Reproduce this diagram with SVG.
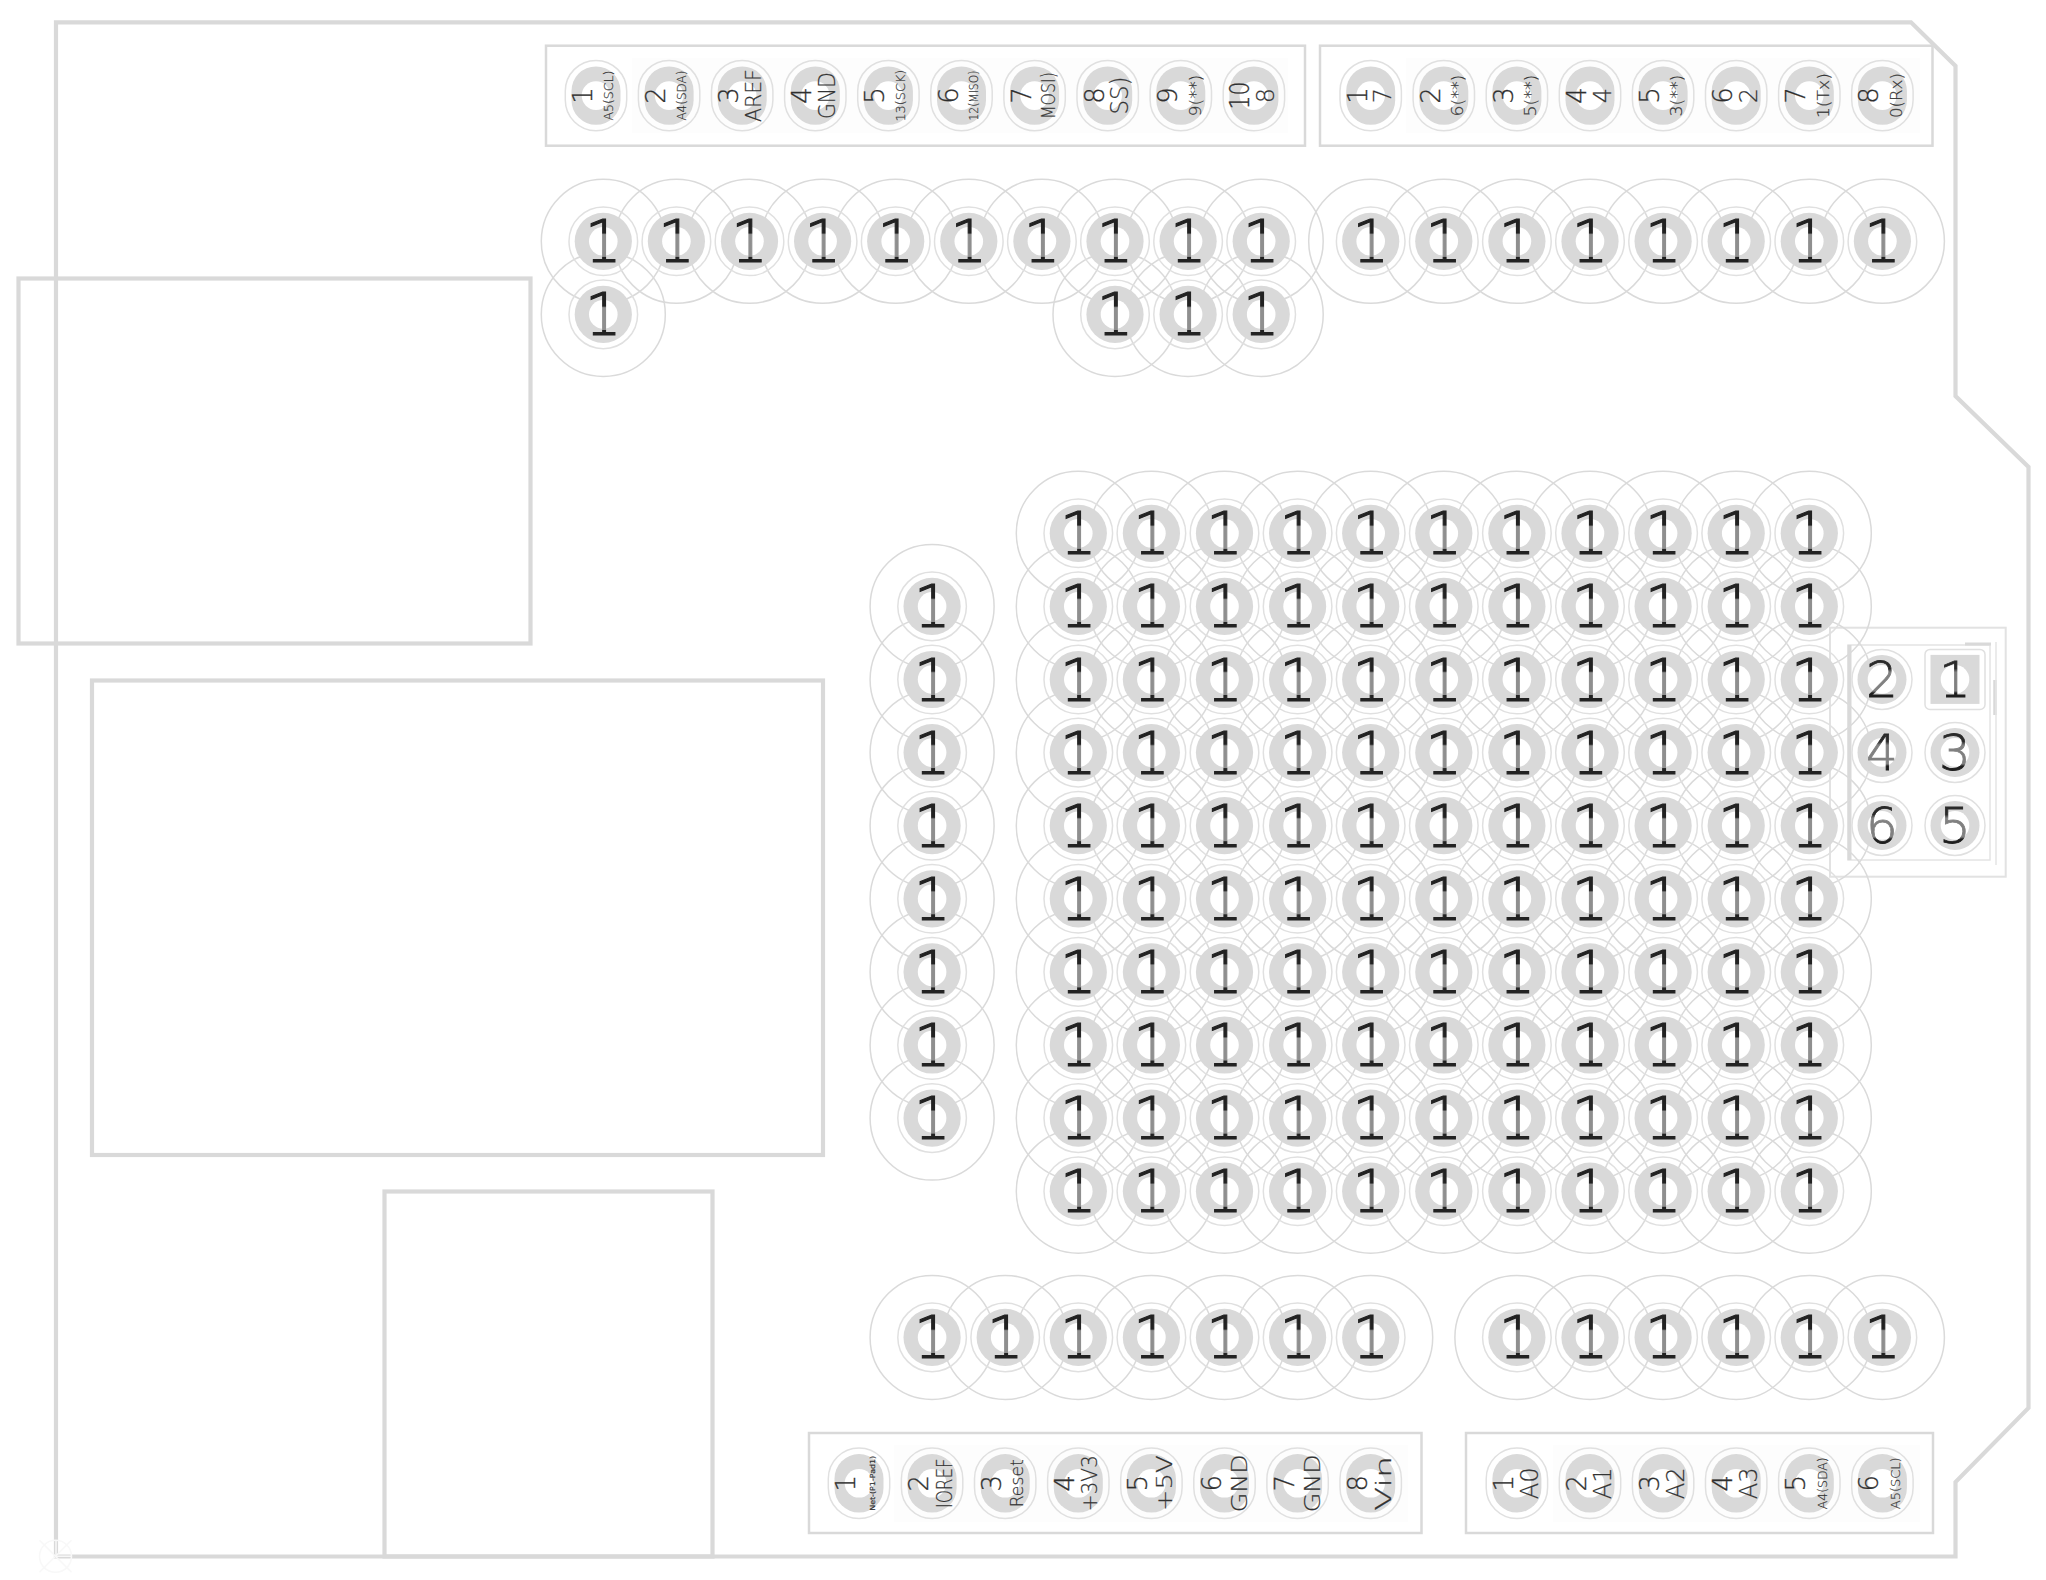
<svg xmlns="http://www.w3.org/2000/svg" width="2046" height="1580" viewBox="0 0 2046 1580">
<style>
.bg{fill:#fff}
.edge{fill:none;stroke:#d9d9d9;stroke-width:4.2;stroke-linejoin:miter}
.box{fill:none;stroke:#d9d9d9;stroke-width:2.5}
.thin{fill:none;stroke:#e4e4e4;stroke-width:1.5}
.thick{fill:none;stroke:#d9d9d9;stroke-width:4}
.faint{fill:none;stroke:#f8f8f8;stroke-width:1.5}
.zone{fill:#fdfdfd}
.clr{fill:none;stroke:#dadada;stroke-width:1.5}
.ring{fill:none;stroke:#e0e0e0;stroke-width:1.5}
.cu{fill:#d9d9d9}
.hole{fill:#fff}
text{font-family:"DejaVu Sans","Liberation Sans",sans-serif;font-weight:200;text-anchor:middle}
.o{font-size:58px;fill:url(#ink);stroke:url(#ink);stroke-width:1.1}
.h{font-size:50px;fill:url(#ink2);stroke:url(#ink2);stroke-width:.8}
.n{font-size:26px;fill:#2e2e2e;stroke:#2e2e2e;stroke-width:.3}
.l{fill:#333;stroke:#333;stroke-width:.2}
</style>
<defs>
<linearGradient id="ink" gradientUnits="userSpaceOnUse" x1="0" y1="-21" x2="0" y2="21"><stop offset="0" stop-color="#222"/><stop offset=".3" stop-color="#222"/><stop offset=".34" stop-color="#8f8f8f"/><stop offset=".86" stop-color="#8f8f8f"/><stop offset=".88" stop-color="#222"/></linearGradient>
<linearGradient id="ink2" gradientUnits="userSpaceOnUse" x1="0" y1="-18" x2="0" y2="18"><stop offset="0" stop-color="#2a2a2a"/><stop offset=".2" stop-color="#2a2a2a"/><stop offset=".3" stop-color="#808080"/><stop offset=".82" stop-color="#808080"/><stop offset=".88" stop-color="#1e1e1e"/></linearGradient>
<g id="r"><circle class="ring" r="34.3"/><circle class="cu" r="28.6"/><circle class="hole" r="14.3"/></g>
<g id="v"><rect class="ring" x="-30.7" y="-35.2" width="61.4" height="70.4" rx="30.7" ry="30.7"/><rect class="cu" x="-24.5" y="-29.2" width="49" height="58.4" rx="24.5" ry="24.5"/><circle class="hole" r="14.3"/></g>
<g id="e"><circle class="ring" r="30"/><circle class="cu" r="24.5"/><circle class="hole" r="14.3"/></g>
<circle id="b" class="clr" r="62"/>
<g id="bc"><use href="#b" y="533.3"/><use href="#b" y="606.4"/><use href="#b" y="679.5"/><use href="#b" y="752.6"/><use href="#b" y="825.7"/><use href="#b" y="898.8"/><use href="#b" y="971.9"/><use href="#b" y="1045"/><use href="#b" y="1118.1"/><use href="#b" y="1191.2"/></g>
</defs>
<rect class="bg" width="2046" height="1580"/>
<g id="board">
<path id="outline" class="edge" d="M56 22.3H1911L1955.5 66V396L2028.5 467V1408L1955.5 1482V1556.5H56Z"/>
<rect id="module-a" class="edge" x="18.5" y="278.5" width="512" height="365"/>
<rect id="module-b" class="edge" x="92" y="680.5" width="731" height="474.5"/>
<rect id="module-c" class="edge" x="384.5" y="1191.5" width="328" height="365"/>
<rect class="zone" x="632" y="58" width="656" height="75"/>
<rect class="zone" x="1406" y="58" width="514" height="75"/>
<rect class="zone" x="894" y="1445" width="514" height="77"/>
<rect class="zone" x="1553" y="1445" width="367" height="77"/>
<rect id="outline-top-left" class="box" x="546" y="45.7" width="759" height="100"/>
<rect id="outline-top-right" class="box" x="1320" y="45.7" width="612.5" height="100"/>
<rect id="outline-bottom-left" class="box" x="809" y="1433" width="612.5" height="100"/>
<rect id="outline-bottom-right" class="box" x="1466" y="1433" width="467" height="100"/>
<rect id="outline-header" class="box" style="stroke:#e2e2e2;stroke-width:2" x="1830" y="627.7" width="175.7" height="249"/>
<rect class="thin" x="1848" y="645" width="142" height="215"/>
<path class="thick" d="M1849.5 645V860"/>
<path class="thick" style="stroke-width:3" d="M1965 644H1991"/>
<path class="thick" style="stroke-width:3.5" d="M1995 680V715"/>
<path class="thin" d="M1996 642V865"/>
<g id="aux-origin"><circle class="faint" cx="55.5" cy="1556.3" r="16"/><path class="faint" d="M39.5 1540.3L71.5 1572.3M71.5 1540.3L39.5 1572.3"/><path d="M56 1540V1556.3H72" fill="none" stroke="#f7f7f7" stroke-width="1.5"/></g>
</g>
<g id="clearances">
<use href="#bc" x="1078.3"/><use href="#bc" x="1151.4"/><use href="#bc" x="1224.5"/><use href="#bc" x="1297.6"/><use href="#bc" x="1370.7"/><use href="#bc" x="1443.8"/><use href="#bc" x="1516.9"/><use href="#bc" x="1590"/><use href="#bc" x="1663.1"/><use href="#bc" x="1736.2"/><use href="#bc" x="1809.3"/>
<use href="#b" x="603.3" y="241.3"/><use href="#b" x="676.4" y="241.3"/><use href="#b" x="749.5" y="241.3"/><use href="#b" x="822.6" y="241.3"/><use href="#b" x="895.7" y="241.3"/><use href="#b" x="968.8" y="241.3"/><use href="#b" x="1041.9" y="241.3"/><use href="#b" x="1115" y="241.3"/><use href="#b" x="1188.1" y="241.3"/><use href="#b" x="1261.2" y="241.3"/>
<use href="#b" x="603.3" y="314.4"/><use href="#b" x="1115" y="314.4"/><use href="#b" x="1188.1" y="314.4"/><use href="#b" x="1261.2" y="314.4"/>
<use href="#b" x="1370.7" y="241.3"/><use href="#b" x="1443.8" y="241.3"/><use href="#b" x="1516.9" y="241.3"/><use href="#b" x="1590" y="241.3"/><use href="#b" x="1663.1" y="241.3"/><use href="#b" x="1736.2" y="241.3"/><use href="#b" x="1809.3" y="241.3"/><use href="#b" x="1882.4" y="241.3"/>
<use href="#b" x="932.1" y="606.4"/><use href="#b" x="932.1" y="679.5"/><use href="#b" x="932.1" y="752.6"/><use href="#b" x="932.1" y="825.7"/><use href="#b" x="932.1" y="898.8"/><use href="#b" x="932.1" y="971.9"/><use href="#b" x="932.1" y="1045"/><use href="#b" x="932.1" y="1118.1"/>
<use href="#b" x="932.1" y="1337.4"/><use href="#b" x="1005.2" y="1337.4"/><use href="#b" x="1078.3" y="1337.4"/><use href="#b" x="1151.4" y="1337.4"/><use href="#b" x="1224.5" y="1337.4"/><use href="#b" x="1297.6" y="1337.4"/><use href="#b" x="1370.7" y="1337.4"/>
<use href="#b" x="1516.9" y="1337.4"/><use href="#b" x="1590" y="1337.4"/><use href="#b" x="1663.1" y="1337.4"/><use href="#b" x="1736.2" y="1337.4"/><use href="#b" x="1809.3" y="1337.4"/><use href="#b" x="1882.4" y="1337.4"/>
</g>
<g id="connectors"></g>
<g id="pads-top-row">
<g id="t1" transform="translate(603.3,241.3)"><use href="#r"/><text class="o" y="21">1</text></g>
<g id="t2" transform="translate(676.4,241.3)"><use href="#r"/><text class="o" y="21">1</text></g>
<g id="t3" transform="translate(749.5,241.3)"><use href="#r"/><text class="o" y="21">1</text></g>
<g id="t4" transform="translate(822.6,241.3)"><use href="#r"/><text class="o" y="21">1</text></g>
<g id="t5" transform="translate(895.7,241.3)"><use href="#r"/><text class="o" y="21">1</text></g>
<g id="t6" transform="translate(968.8,241.3)"><use href="#r"/><text class="o" y="21">1</text></g>
<g id="t7" transform="translate(1041.9,241.3)"><use href="#r"/><text class="o" y="21">1</text></g>
<g id="t8" transform="translate(1115,241.3)"><use href="#r"/><text class="o" y="21">1</text></g>
<g id="t9" transform="translate(1188.1,241.3)"><use href="#r"/><text class="o" y="21">1</text></g>
<g id="t10" transform="translate(1261.2,241.3)"><use href="#r"/><text class="o" y="21">1</text></g>
<g id="u1" transform="translate(603.3,314.4)"><use href="#r"/><text class="o" y="21">1</text></g>
<g id="u2" transform="translate(1115,314.4)"><use href="#r"/><text class="o" y="21">1</text></g>
<g id="u3" transform="translate(1188.1,314.4)"><use href="#r"/><text class="o" y="21">1</text></g>
<g id="u4" transform="translate(1261.2,314.4)"><use href="#r"/><text class="o" y="21">1</text></g>
<g id="w1" transform="translate(1370.7,241.3)"><use href="#r"/><text class="o" y="21">1</text></g>
<g id="w2" transform="translate(1443.8,241.3)"><use href="#r"/><text class="o" y="21">1</text></g>
<g id="w3" transform="translate(1516.9,241.3)"><use href="#r"/><text class="o" y="21">1</text></g>
<g id="w4" transform="translate(1590,241.3)"><use href="#r"/><text class="o" y="21">1</text></g>
<g id="w5" transform="translate(1663.1,241.3)"><use href="#r"/><text class="o" y="21">1</text></g>
<g id="w6" transform="translate(1736.2,241.3)"><use href="#r"/><text class="o" y="21">1</text></g>
<g id="w7" transform="translate(1809.3,241.3)"><use href="#r"/><text class="o" y="21">1</text></g>
<g id="w8" transform="translate(1882.4,241.3)"><use href="#r"/><text class="o" y="21">1</text></g>
</g>
<g id="pads-column">
<g id="s1" transform="translate(932.1,606.4)"><use href="#r"/><text class="o" y="21">1</text></g>
<g id="s2" transform="translate(932.1,679.5)"><use href="#r"/><text class="o" y="21">1</text></g>
<g id="s3" transform="translate(932.1,752.6)"><use href="#r"/><text class="o" y="21">1</text></g>
<g id="s4" transform="translate(932.1,825.7)"><use href="#r"/><text class="o" y="21">1</text></g>
<g id="s5" transform="translate(932.1,898.8)"><use href="#r"/><text class="o" y="21">1</text></g>
<g id="s6" transform="translate(932.1,971.9)"><use href="#r"/><text class="o" y="21">1</text></g>
<g id="s7" transform="translate(932.1,1045)"><use href="#r"/><text class="o" y="21">1</text></g>
<g id="s8" transform="translate(932.1,1118.1)"><use href="#r"/><text class="o" y="21">1</text></g>
</g>
<g id="pads-bottom-row">
<g id="d1" transform="translate(932.1,1337.4)"><use href="#r"/><text class="o" y="21">1</text></g>
<g id="d2" transform="translate(1005.2,1337.4)"><use href="#r"/><text class="o" y="21">1</text></g>
<g id="d3" transform="translate(1078.3,1337.4)"><use href="#r"/><text class="o" y="21">1</text></g>
<g id="d4" transform="translate(1151.4,1337.4)"><use href="#r"/><text class="o" y="21">1</text></g>
<g id="d5" transform="translate(1224.5,1337.4)"><use href="#r"/><text class="o" y="21">1</text></g>
<g id="d6" transform="translate(1297.6,1337.4)"><use href="#r"/><text class="o" y="21">1</text></g>
<g id="d7" transform="translate(1370.7,1337.4)"><use href="#r"/><text class="o" y="21">1</text></g>
<g id="f1" transform="translate(1516.9,1337.4)"><use href="#r"/><text class="o" y="21">1</text></g>
<g id="f2" transform="translate(1590,1337.4)"><use href="#r"/><text class="o" y="21">1</text></g>
<g id="f3" transform="translate(1663.1,1337.4)"><use href="#r"/><text class="o" y="21">1</text></g>
<g id="f4" transform="translate(1736.2,1337.4)"><use href="#r"/><text class="o" y="21">1</text></g>
<g id="f5" transform="translate(1809.3,1337.4)"><use href="#r"/><text class="o" y="21">1</text></g>
<g id="f6" transform="translate(1882.4,1337.4)"><use href="#r"/><text class="o" y="21">1</text></g>
</g>
<g id="pads-grid">
<g id="g1-1" transform="translate(1078.3,533.3)"><use href="#r"/><text class="o" y="21">1</text></g>
<g id="g1-2" transform="translate(1078.3,606.4)"><use href="#r"/><text class="o" y="21">1</text></g>
<g id="g1-3" transform="translate(1078.3,679.5)"><use href="#r"/><text class="o" y="21">1</text></g>
<g id="g1-4" transform="translate(1078.3,752.6)"><use href="#r"/><text class="o" y="21">1</text></g>
<g id="g1-5" transform="translate(1078.3,825.7)"><use href="#r"/><text class="o" y="21">1</text></g>
<g id="g1-6" transform="translate(1078.3,898.8)"><use href="#r"/><text class="o" y="21">1</text></g>
<g id="g1-7" transform="translate(1078.3,971.9)"><use href="#r"/><text class="o" y="21">1</text></g>
<g id="g1-8" transform="translate(1078.3,1045)"><use href="#r"/><text class="o" y="21">1</text></g>
<g id="g1-9" transform="translate(1078.3,1118.1)"><use href="#r"/><text class="o" y="21">1</text></g>
<g id="g1-10" transform="translate(1078.3,1191.2)"><use href="#r"/><text class="o" y="21">1</text></g>
<g id="g2-1" transform="translate(1151.4,533.3)"><use href="#r"/><text class="o" y="21">1</text></g>
<g id="g2-2" transform="translate(1151.4,606.4)"><use href="#r"/><text class="o" y="21">1</text></g>
<g id="g2-3" transform="translate(1151.4,679.5)"><use href="#r"/><text class="o" y="21">1</text></g>
<g id="g2-4" transform="translate(1151.4,752.6)"><use href="#r"/><text class="o" y="21">1</text></g>
<g id="g2-5" transform="translate(1151.4,825.7)"><use href="#r"/><text class="o" y="21">1</text></g>
<g id="g2-6" transform="translate(1151.4,898.8)"><use href="#r"/><text class="o" y="21">1</text></g>
<g id="g2-7" transform="translate(1151.4,971.9)"><use href="#r"/><text class="o" y="21">1</text></g>
<g id="g2-8" transform="translate(1151.4,1045)"><use href="#r"/><text class="o" y="21">1</text></g>
<g id="g2-9" transform="translate(1151.4,1118.1)"><use href="#r"/><text class="o" y="21">1</text></g>
<g id="g2-10" transform="translate(1151.4,1191.2)"><use href="#r"/><text class="o" y="21">1</text></g>
<g id="g3-1" transform="translate(1224.5,533.3)"><use href="#r"/><text class="o" y="21">1</text></g>
<g id="g3-2" transform="translate(1224.5,606.4)"><use href="#r"/><text class="o" y="21">1</text></g>
<g id="g3-3" transform="translate(1224.5,679.5)"><use href="#r"/><text class="o" y="21">1</text></g>
<g id="g3-4" transform="translate(1224.5,752.6)"><use href="#r"/><text class="o" y="21">1</text></g>
<g id="g3-5" transform="translate(1224.5,825.7)"><use href="#r"/><text class="o" y="21">1</text></g>
<g id="g3-6" transform="translate(1224.5,898.8)"><use href="#r"/><text class="o" y="21">1</text></g>
<g id="g3-7" transform="translate(1224.5,971.9)"><use href="#r"/><text class="o" y="21">1</text></g>
<g id="g3-8" transform="translate(1224.5,1045)"><use href="#r"/><text class="o" y="21">1</text></g>
<g id="g3-9" transform="translate(1224.5,1118.1)"><use href="#r"/><text class="o" y="21">1</text></g>
<g id="g3-10" transform="translate(1224.5,1191.2)"><use href="#r"/><text class="o" y="21">1</text></g>
<g id="g4-1" transform="translate(1297.6,533.3)"><use href="#r"/><text class="o" y="21">1</text></g>
<g id="g4-2" transform="translate(1297.6,606.4)"><use href="#r"/><text class="o" y="21">1</text></g>
<g id="g4-3" transform="translate(1297.6,679.5)"><use href="#r"/><text class="o" y="21">1</text></g>
<g id="g4-4" transform="translate(1297.6,752.6)"><use href="#r"/><text class="o" y="21">1</text></g>
<g id="g4-5" transform="translate(1297.6,825.7)"><use href="#r"/><text class="o" y="21">1</text></g>
<g id="g4-6" transform="translate(1297.6,898.8)"><use href="#r"/><text class="o" y="21">1</text></g>
<g id="g4-7" transform="translate(1297.6,971.9)"><use href="#r"/><text class="o" y="21">1</text></g>
<g id="g4-8" transform="translate(1297.6,1045)"><use href="#r"/><text class="o" y="21">1</text></g>
<g id="g4-9" transform="translate(1297.6,1118.1)"><use href="#r"/><text class="o" y="21">1</text></g>
<g id="g4-10" transform="translate(1297.6,1191.2)"><use href="#r"/><text class="o" y="21">1</text></g>
<g id="g5-1" transform="translate(1370.7,533.3)"><use href="#r"/><text class="o" y="21">1</text></g>
<g id="g5-2" transform="translate(1370.7,606.4)"><use href="#r"/><text class="o" y="21">1</text></g>
<g id="g5-3" transform="translate(1370.7,679.5)"><use href="#r"/><text class="o" y="21">1</text></g>
<g id="g5-4" transform="translate(1370.7,752.6)"><use href="#r"/><text class="o" y="21">1</text></g>
<g id="g5-5" transform="translate(1370.7,825.7)"><use href="#r"/><text class="o" y="21">1</text></g>
<g id="g5-6" transform="translate(1370.7,898.8)"><use href="#r"/><text class="o" y="21">1</text></g>
<g id="g5-7" transform="translate(1370.7,971.9)"><use href="#r"/><text class="o" y="21">1</text></g>
<g id="g5-8" transform="translate(1370.7,1045)"><use href="#r"/><text class="o" y="21">1</text></g>
<g id="g5-9" transform="translate(1370.7,1118.1)"><use href="#r"/><text class="o" y="21">1</text></g>
<g id="g5-10" transform="translate(1370.7,1191.2)"><use href="#r"/><text class="o" y="21">1</text></g>
<g id="g6-1" transform="translate(1443.8,533.3)"><use href="#r"/><text class="o" y="21">1</text></g>
<g id="g6-2" transform="translate(1443.8,606.4)"><use href="#r"/><text class="o" y="21">1</text></g>
<g id="g6-3" transform="translate(1443.8,679.5)"><use href="#r"/><text class="o" y="21">1</text></g>
<g id="g6-4" transform="translate(1443.8,752.6)"><use href="#r"/><text class="o" y="21">1</text></g>
<g id="g6-5" transform="translate(1443.8,825.7)"><use href="#r"/><text class="o" y="21">1</text></g>
<g id="g6-6" transform="translate(1443.8,898.8)"><use href="#r"/><text class="o" y="21">1</text></g>
<g id="g6-7" transform="translate(1443.8,971.9)"><use href="#r"/><text class="o" y="21">1</text></g>
<g id="g6-8" transform="translate(1443.8,1045)"><use href="#r"/><text class="o" y="21">1</text></g>
<g id="g6-9" transform="translate(1443.8,1118.1)"><use href="#r"/><text class="o" y="21">1</text></g>
<g id="g6-10" transform="translate(1443.8,1191.2)"><use href="#r"/><text class="o" y="21">1</text></g>
<g id="g7-1" transform="translate(1516.9,533.3)"><use href="#r"/><text class="o" y="21">1</text></g>
<g id="g7-2" transform="translate(1516.9,606.4)"><use href="#r"/><text class="o" y="21">1</text></g>
<g id="g7-3" transform="translate(1516.9,679.5)"><use href="#r"/><text class="o" y="21">1</text></g>
<g id="g7-4" transform="translate(1516.9,752.6)"><use href="#r"/><text class="o" y="21">1</text></g>
<g id="g7-5" transform="translate(1516.9,825.7)"><use href="#r"/><text class="o" y="21">1</text></g>
<g id="g7-6" transform="translate(1516.9,898.8)"><use href="#r"/><text class="o" y="21">1</text></g>
<g id="g7-7" transform="translate(1516.9,971.9)"><use href="#r"/><text class="o" y="21">1</text></g>
<g id="g7-8" transform="translate(1516.9,1045)"><use href="#r"/><text class="o" y="21">1</text></g>
<g id="g7-9" transform="translate(1516.9,1118.1)"><use href="#r"/><text class="o" y="21">1</text></g>
<g id="g7-10" transform="translate(1516.9,1191.2)"><use href="#r"/><text class="o" y="21">1</text></g>
<g id="g8-1" transform="translate(1590,533.3)"><use href="#r"/><text class="o" y="21">1</text></g>
<g id="g8-2" transform="translate(1590,606.4)"><use href="#r"/><text class="o" y="21">1</text></g>
<g id="g8-3" transform="translate(1590,679.5)"><use href="#r"/><text class="o" y="21">1</text></g>
<g id="g8-4" transform="translate(1590,752.6)"><use href="#r"/><text class="o" y="21">1</text></g>
<g id="g8-5" transform="translate(1590,825.7)"><use href="#r"/><text class="o" y="21">1</text></g>
<g id="g8-6" transform="translate(1590,898.8)"><use href="#r"/><text class="o" y="21">1</text></g>
<g id="g8-7" transform="translate(1590,971.9)"><use href="#r"/><text class="o" y="21">1</text></g>
<g id="g8-8" transform="translate(1590,1045)"><use href="#r"/><text class="o" y="21">1</text></g>
<g id="g8-9" transform="translate(1590,1118.1)"><use href="#r"/><text class="o" y="21">1</text></g>
<g id="g8-10" transform="translate(1590,1191.2)"><use href="#r"/><text class="o" y="21">1</text></g>
<g id="g9-1" transform="translate(1663.1,533.3)"><use href="#r"/><text class="o" y="21">1</text></g>
<g id="g9-2" transform="translate(1663.1,606.4)"><use href="#r"/><text class="o" y="21">1</text></g>
<g id="g9-3" transform="translate(1663.1,679.5)"><use href="#r"/><text class="o" y="21">1</text></g>
<g id="g9-4" transform="translate(1663.1,752.6)"><use href="#r"/><text class="o" y="21">1</text></g>
<g id="g9-5" transform="translate(1663.1,825.7)"><use href="#r"/><text class="o" y="21">1</text></g>
<g id="g9-6" transform="translate(1663.1,898.8)"><use href="#r"/><text class="o" y="21">1</text></g>
<g id="g9-7" transform="translate(1663.1,971.9)"><use href="#r"/><text class="o" y="21">1</text></g>
<g id="g9-8" transform="translate(1663.1,1045)"><use href="#r"/><text class="o" y="21">1</text></g>
<g id="g9-9" transform="translate(1663.1,1118.1)"><use href="#r"/><text class="o" y="21">1</text></g>
<g id="g9-10" transform="translate(1663.1,1191.2)"><use href="#r"/><text class="o" y="21">1</text></g>
<g id="g10-1" transform="translate(1736.2,533.3)"><use href="#r"/><text class="o" y="21">1</text></g>
<g id="g10-2" transform="translate(1736.2,606.4)"><use href="#r"/><text class="o" y="21">1</text></g>
<g id="g10-3" transform="translate(1736.2,679.5)"><use href="#r"/><text class="o" y="21">1</text></g>
<g id="g10-4" transform="translate(1736.2,752.6)"><use href="#r"/><text class="o" y="21">1</text></g>
<g id="g10-5" transform="translate(1736.2,825.7)"><use href="#r"/><text class="o" y="21">1</text></g>
<g id="g10-6" transform="translate(1736.2,898.8)"><use href="#r"/><text class="o" y="21">1</text></g>
<g id="g10-7" transform="translate(1736.2,971.9)"><use href="#r"/><text class="o" y="21">1</text></g>
<g id="g10-8" transform="translate(1736.2,1045)"><use href="#r"/><text class="o" y="21">1</text></g>
<g id="g10-9" transform="translate(1736.2,1118.1)"><use href="#r"/><text class="o" y="21">1</text></g>
<g id="g10-10" transform="translate(1736.2,1191.2)"><use href="#r"/><text class="o" y="21">1</text></g>
<g id="g11-1" transform="translate(1809.3,533.3)"><use href="#r"/><text class="o" y="21">1</text></g>
<g id="g11-2" transform="translate(1809.3,606.4)"><use href="#r"/><text class="o" y="21">1</text></g>
<g id="g11-3" transform="translate(1809.3,679.5)"><use href="#r"/><text class="o" y="21">1</text></g>
<g id="g11-4" transform="translate(1809.3,752.6)"><use href="#r"/><text class="o" y="21">1</text></g>
<g id="g11-5" transform="translate(1809.3,825.7)"><use href="#r"/><text class="o" y="21">1</text></g>
<g id="g11-6" transform="translate(1809.3,898.8)"><use href="#r"/><text class="o" y="21">1</text></g>
<g id="g11-7" transform="translate(1809.3,971.9)"><use href="#r"/><text class="o" y="21">1</text></g>
<g id="g11-8" transform="translate(1809.3,1045)"><use href="#r"/><text class="o" y="21">1</text></g>
<g id="g11-9" transform="translate(1809.3,1118.1)"><use href="#r"/><text class="o" y="21">1</text></g>
<g id="g11-10" transform="translate(1809.3,1191.2)"><use href="#r"/><text class="o" y="21">1</text></g>
</g>
<g id="header-pads">
<g id="h1" transform="translate(1955,679.4)"><rect x="-30" y="-30" width="60" height="60" rx="5" class="ring"/><rect x="-24.5" y="-24.5" width="49" height="49" class="cu"/><circle class="hole" r="14.3"/><text class="h" y="18">1</text></g>
<g id="h2" transform="translate(1882,679.4)"><use href="#e"/><text class="h" y="18">2</text></g>
<g id="h3" transform="translate(1955,752.4)"><use href="#e"/><text class="h" y="18">3</text></g>
<g id="h4" transform="translate(1882,752.4)"><use href="#e"/><text class="h" y="18">4</text></g>
<g id="h5" transform="translate(1955,825.4)"><use href="#e"/><text class="h" y="18">5</text></g>
<g id="h6" transform="translate(1882,825.4)"><use href="#e"/><text class="h" y="18">6</text></g>
</g>
<g id="connector-top-left">
<g id="a1" transform="translate(596,95.6)"><use href="#v"/><text class="n" transform="translate(-4,0) rotate(-90)">1</text><text class="l" font-size="12" textLength="50" lengthAdjust="spacingAndGlyphs" transform="translate(16.5,0) rotate(-90)">A5(SCL)</text></g>
<g id="a2" transform="translate(669.1,95.6)"><use href="#v"/><text class="n" transform="translate(-4,0) rotate(-90)">2</text><text class="l" font-size="12" textLength="50" lengthAdjust="spacingAndGlyphs" transform="translate(16.5,0) rotate(-90)">A4(SDA)</text></g>
<g id="a3" transform="translate(742.2,95.6)"><use href="#v"/><text class="n" transform="translate(-4,0) rotate(-90)">3</text><text class="l" font-size="22" textLength="53" lengthAdjust="spacingAndGlyphs" transform="translate(19,0) rotate(-90)">AREF</text></g>
<g id="a4" transform="translate(815.3,95.6)"><use href="#v"/><text class="n" transform="translate(-4,0) rotate(-90)">4</text><text class="l" font-size="23" textLength="47" lengthAdjust="spacingAndGlyphs" transform="translate(20,0) rotate(-90)">GND</text></g>
<g id="a5" transform="translate(888.4,95.6)"><use href="#v"/><text class="n" transform="translate(-4,0) rotate(-90)">5</text><text class="l" font-size="13" textLength="52" lengthAdjust="spacingAndGlyphs" transform="translate(17,0) rotate(-90)">13(SCK)</text></g>
<g id="a6" transform="translate(961.5,95.6)"><use href="#v"/><text class="n" transform="translate(-4,0) rotate(-90)">6</text><text class="l" font-size="12" textLength="50" lengthAdjust="spacingAndGlyphs" transform="translate(16.5,0) rotate(-90)">12(MISO)</text></g>
<g id="a7" transform="translate(1034.6,95.6)"><use href="#v"/><text class="n" transform="translate(-4,0) rotate(-90)">7</text><text class="l" font-size="20" textLength="47" lengthAdjust="spacingAndGlyphs" transform="translate(20,0) rotate(-90)">MOSI)</text></g>
<g id="a8" transform="translate(1107.7,95.6)"><use href="#v"/><text class="n" transform="translate(-4,0) rotate(-90)">8</text><text class="l" font-size="24" textLength="38" lengthAdjust="spacingAndGlyphs" transform="translate(20,0) rotate(-90)">SS)</text></g>
<g id="a9" transform="translate(1180.8,95.6)"><use href="#v"/><text class="n" transform="translate(-4,0) rotate(-90)">9</text><text class="l" font-size="16" textLength="42" lengthAdjust="spacingAndGlyphs" transform="translate(20,0) rotate(-90)">9(**)</text></g>
<g id="a10" transform="translate(1253.9,95.6)"><use href="#v"/><text class="n" textLength="28" lengthAdjust="spacingAndGlyphs" transform="translate(-5,0) rotate(-90)">10</text><text class="l" font-size="24" transform="translate(20,0) rotate(-90)">8</text></g>
</g>
<g id="connector-top-right">
<g id="b1" transform="translate(1370.7,95.6)"><use href="#v"/><text class="n" transform="translate(-4,0) rotate(-90)">1</text><text class="l" font-size="24" transform="translate(20.5,0) rotate(-90)">7</text></g>
<g id="b2" transform="translate(1443.8,95.6)"><use href="#v"/><text class="n" transform="translate(-4,0) rotate(-90)">2</text><text class="l" font-size="16" textLength="42" lengthAdjust="spacingAndGlyphs" transform="translate(19,0) rotate(-90)">6(**)</text></g>
<g id="b3" transform="translate(1516.9,95.6)"><use href="#v"/><text class="n" transform="translate(-4,0) rotate(-90)">3</text><text class="l" font-size="16" textLength="42" lengthAdjust="spacingAndGlyphs" transform="translate(19,0) rotate(-90)">5(**)</text></g>
<g id="b4" transform="translate(1590,95.6)"><use href="#v"/><text class="n" transform="translate(-4,0) rotate(-90)">4</text><text class="l" font-size="24" transform="translate(20.5,0) rotate(-90)">4</text></g>
<g id="b5" transform="translate(1663.1,95.6)"><use href="#v"/><text class="n" transform="translate(-4,0) rotate(-90)">5</text><text class="l" font-size="16" textLength="42" lengthAdjust="spacingAndGlyphs" transform="translate(19,0) rotate(-90)">3(**)</text></g>
<g id="b6" transform="translate(1736.2,95.6)"><use href="#v"/><text class="n" transform="translate(-4,0) rotate(-90)">6</text><text class="l" font-size="24" transform="translate(20.5,0) rotate(-90)">2</text></g>
<g id="b7" transform="translate(1809.3,95.6)"><use href="#v"/><text class="n" transform="translate(-4,0) rotate(-90)">7</text><text class="l" font-size="16" textLength="45" lengthAdjust="spacingAndGlyphs" transform="translate(20,0) rotate(-90)">1(Tx)</text></g>
<g id="b8" transform="translate(1882.4,95.6)"><use href="#v"/><text class="n" transform="translate(-4,0) rotate(-90)">8</text><text class="l" font-size="16" textLength="45" lengthAdjust="spacingAndGlyphs" transform="translate(20,0) rotate(-90)">0(Rx)</text></g>
</g>
<g id="connector-bottom-left">
<g id="c1" transform="translate(859,1483.3)"><use href="#v"/><text class="n" transform="translate(-4,0) rotate(-90)">1</text><text class="l" font-size="7" textLength="55" lengthAdjust="spacingAndGlyphs" style="font-weight:400" transform="translate(16,0) rotate(-90)">Net-(P1-Pad1)</text></g>
<g id="c2" transform="translate(932.1,1483.3)"><use href="#v"/><text class="n" transform="translate(-4,0) rotate(-90)">2</text><text class="l" font-size="21" textLength="50" lengthAdjust="spacingAndGlyphs" transform="translate(20,0) rotate(-90)">IOREF</text></g>
<g id="c3" transform="translate(1005.2,1483.3)"><use href="#v"/><text class="n" transform="translate(-4,0) rotate(-90)">3</text><text class="l" font-size="18" textLength="48" lengthAdjust="spacingAndGlyphs" transform="translate(18,0) rotate(-90)">Reset</text></g>
<g id="c4" transform="translate(1078.3,1483.3)"><use href="#v"/><text class="n" transform="translate(-4,0) rotate(-90)">4</text><text class="l" font-size="22" textLength="56" lengthAdjust="spacingAndGlyphs" transform="translate(19,0) rotate(-90)">+3V3</text></g>
<g id="c5" transform="translate(1151.4,1483.3)"><use href="#v"/><text class="n" transform="translate(-4,0) rotate(-90)">5</text><text class="l" font-size="22" textLength="56" lengthAdjust="spacingAndGlyphs" transform="translate(21,0) rotate(-90)">+5V</text></g>
<g id="c6" transform="translate(1224.5,1483.3)"><use href="#v"/><text class="n" transform="translate(-4,0) rotate(-90)">6</text><text class="l" font-size="22" textLength="58" lengthAdjust="spacingAndGlyphs" transform="translate(22,0) rotate(-90)">GND</text></g>
<g id="c7" transform="translate(1297.6,1483.3)"><use href="#v"/><text class="n" transform="translate(-4,0) rotate(-90)">7</text><text class="l" font-size="22" textLength="58" lengthAdjust="spacingAndGlyphs" transform="translate(22,0) rotate(-90)">GND</text></g>
<g id="c8" transform="translate(1370.7,1483.3)"><use href="#v"/><text class="n" transform="translate(-4,0) rotate(-90)">8</text><text class="l" font-size="22" textLength="55" lengthAdjust="spacingAndGlyphs" transform="translate(20,0) rotate(-90)">Vin</text></g>
</g>
<g id="connector-bottom-right">
<g id="e1" transform="translate(1516.9,1483.3)"><use href="#v"/><text class="n" transform="translate(-4,0) rotate(-90)">1</text><text class="l" font-size="24" textLength="32" lengthAdjust="spacingAndGlyphs" transform="translate(21,0) rotate(-90)">A0</text></g>
<g id="e2" transform="translate(1590,1483.3)"><use href="#v"/><text class="n" transform="translate(-4,0) rotate(-90)">2</text><text class="l" font-size="24" textLength="32" lengthAdjust="spacingAndGlyphs" transform="translate(21,0) rotate(-90)">A1</text></g>
<g id="e3" transform="translate(1663.1,1483.3)"><use href="#v"/><text class="n" transform="translate(-4,0) rotate(-90)">3</text><text class="l" font-size="24" textLength="32" lengthAdjust="spacingAndGlyphs" transform="translate(21,0) rotate(-90)">A2</text></g>
<g id="e4" transform="translate(1736.2,1483.3)"><use href="#v"/><text class="n" transform="translate(-4,0) rotate(-90)">4</text><text class="l" font-size="24" textLength="32" lengthAdjust="spacingAndGlyphs" transform="translate(21,0) rotate(-90)">A3</text></g>
<g id="e5" transform="translate(1809.3,1483.3)"><use href="#v"/><text class="n" transform="translate(-4,0) rotate(-90)">5</text><text class="l" font-size="13" textLength="52" lengthAdjust="spacingAndGlyphs" transform="translate(18,0) rotate(-90)">A4(SDA)</text></g>
<g id="e6" transform="translate(1882.4,1483.3)"><use href="#v"/><text class="n" transform="translate(-4,0) rotate(-90)">6</text><text class="l" font-size="13" textLength="52" lengthAdjust="spacingAndGlyphs" transform="translate(18,0) rotate(-90)">A5(SCL)</text></g>
</g>
</svg>
